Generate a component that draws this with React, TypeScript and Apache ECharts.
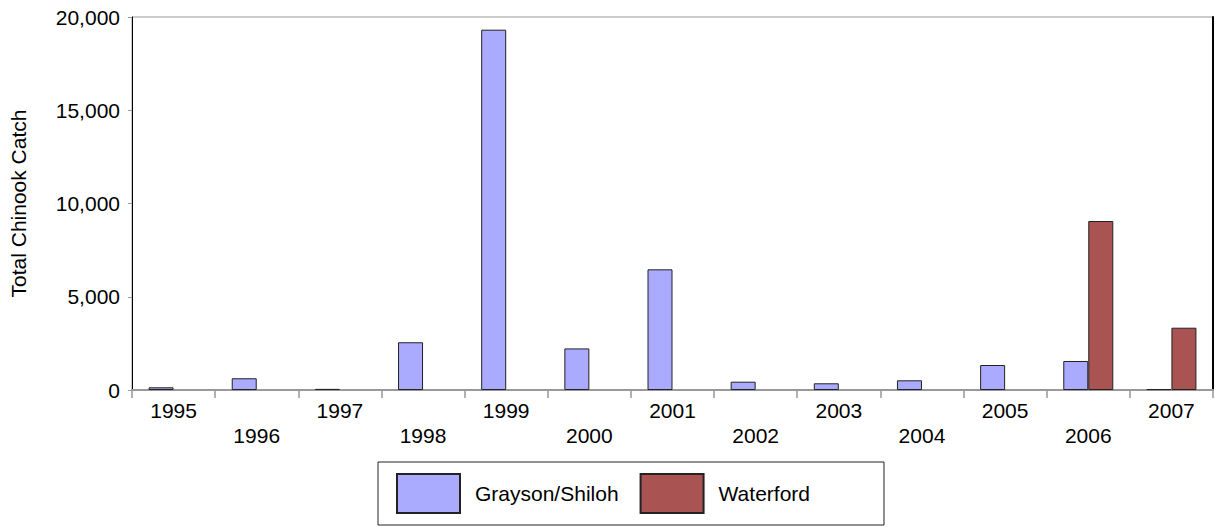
import React, { useEffect, useRef } from "react";
import * as echarts from "echarts";

const years = ["1995", "1996", "1997", "1998", "1999", "2000", "2001", "2002", "2003", "2004", "2005", "2006", "2007"];
const graysonShiloh = [145, 630, 60, 2560, 19320, 2230, 6470, 445, 360, 520, 1340, 1555, 50];
const waterford = [null, null, null, null, null, null, null, null, null, null, null, 9060, 3340];
const yTicks = { min: 0, max: 20000, interval: 5000 };

const FONT = "'Liberation Sans', Arial, sans-serif";

export default function App() {
  const ref = useRef<HTMLDivElement>(null);
  useEffect(() => {
    if (!ref.current) return;
    const chart = echarts.init(ref.current, null, { renderer: "svg" });
    chart.setOption({
      animation: false,
      backgroundColor: "#fff",
      textStyle: { fontFamily: FONT },
      grid: {
        left: 132,
        right: 2,
        top: 17,
        bottom: 137,
        show: true,
        borderColor: "#999",
        borderWidth: 1,
      },
      legend: {
        left: 378,
        top: 462,
        orient: "horizontal",
        padding: [11, 74, 11, 18],
        itemGap: 21,
        itemWidth: 63,
        itemHeight: 39,
        icon: "rect",
        borderColor: "#222",
        borderWidth: 1,
        textStyle: { fontSize: 21, color: "#000", fontFamily: FONT, padding: [0, 0, 0, 10] },
        data: ["Grayson/Shiloh", "Waterford"],
      },
      xAxis: {
        type: "category",
        data: years,
        axisLine: { show: true, lineStyle: { color: "#999", width: 2 } },
        axisTick: { show: true, alignWithLabel: false, length: 8, lineStyle: { color: "#999", width: 1.5 } },
        axisLabel: {
          interval: 0,
          color: "#000",
          fontSize: 21,
          fontFamily: FONT,
          margin: 8,
          lineHeight: 25,
          formatter: (v: string, i: number) => (i % 2 === 1 ? "\n" + v : v),
        },
        splitLine: { show: false },
      },
      yAxis: [
        {
          type: "value",
          min: yTicks.min,
          max: yTicks.max,
          interval: yTicks.interval,
          name: "Total Chinook Catch",
          nameLocation: "middle",
          nameGap: 103,
          nameTextStyle: { fontSize: 21, color: "#000", fontFamily: FONT },
          axisLine: { show: true, lineStyle: { color: "#000", width: 1 } },
          axisTick: { show: true, length: 4, lineStyle: { color: "#999" } },
          axisLabel: {
            color: "#000",
            fontSize: 21,
            fontFamily: FONT,
            margin: 12,
            formatter: (v: number) => v.toLocaleString("en-US"),
          },
          splitLine: { show: false },
        },
        {
          type: "value",
          position: "right",
          min: yTicks.min,
          max: yTicks.max,
          interval: yTicks.interval,
          axisLine: { show: true, lineStyle: { color: "#000", width: 2 } },
          axisTick: { show: false },
          axisLabel: { show: false },
          splitLine: { show: false },
        },
      ],
      series: [
        {
          name: "Grayson/Shiloh",
          type: "bar",
          data: graysonShiloh,
          barWidth: 25,
          barGap: "0%",
          itemStyle: { color: "#AAAAFF", borderColor: "#222", borderWidth: 1 },
        },
        {
          name: "Waterford",
          type: "bar",
          data: waterford,
          barWidth: 25,
          barGap: "0%",
          itemStyle: { color: "#AA5353", borderColor: "#222", borderWidth: 1 },
        },
      ],
    });
    return () => chart.dispose();
  }, []);
  return <div ref={ref} style={{ width: 1215, height: 527, position: "absolute", left: 0, top: 0 }} />;
}
